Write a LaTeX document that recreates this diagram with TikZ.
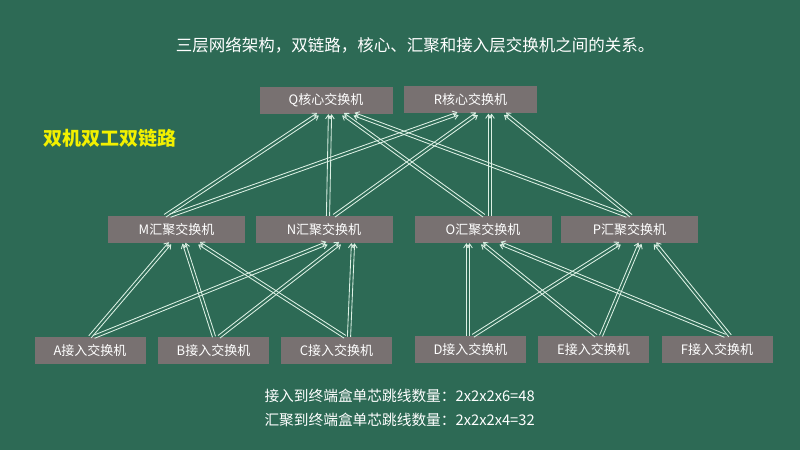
\documentclass[tikz,border=0pt]{standalone}
\usepackage{fontspec}
\setmainfont{Noto Sans CJK SC}
\usetikzlibrary{calc,arrows.meta}
\definecolor{bg}{HTML}{2D6A55}
\definecolor{boxgray}{HTML}{787171}
\definecolor{linkc}{HTML}{DCF0E4}
\definecolor{yel}{HTML}{F2F000}
\tikzset{
  sw/.style={fill=boxgray, text=white, inner sep=0pt, minimum height=27pt, font=\fontsize{13}{15}\selectfont},
  core/.style={sw, minimum width=133pt},
  agg/.style={sw, minimum width=137pt},
  acc/.style={sw, minimum width=111pt},
  link/.style={draw=linkc, line width=0.85pt, -{Straight Barb[length=4pt,width=5.5pt]}},
}
\newcommand\dlink[2]{%
  \draw[link] ($(#1)!1.6pt!90:(#2)$) -- ($(#2)!1.6pt!-90:(#1)$);
  \draw[link] ($(#1)!1.6pt!-90:(#2)$) -- ($(#2)!1.6pt!90:(#1)$);}
\newcommand\lnk[4]{%
  \coordinate (ls) at ([xshift=#2pt]#1.north);
  \coordinate (lt) at ([xshift=#4pt]#3.south);
  \dlink{ls}{lt}}
\begin{document}
\begin{tikzpicture}[x=1pt,y=1pt]
\fill[bg] (0,0) rectangle (800,450);
\useasboundingbox (0,0) rectangle (800,450);
\node[text=white, font=\fontsize{16.5}{18}\selectfont] (title) at (415,405) {三层网络架构，双链路，核心、汇聚和接入层交换机之间的关系。};
\node[text=yel, anchor=west, font=\fontsize{19}{21}\selectfont\bfseries] (duplex) at (40,312) {双机双工双链路};
% core
\node[core] (Q) at (326,349.5) {Q核心交换机};
\node[core] (R) at (470.5,350) {R核心交换机};
% aggregation
\node[agg] (M) at (176.5,220.5) {M汇聚交换机};
\node[agg] (N) at (324,220.5) {N汇聚交换机};
\node[agg] (O) at (483,220.5) {O汇聚交换机};
\node[agg] (P) at (629.5,220.5) {P汇聚交换机};
% access
\node[acc] (A) at (90,99.5) {A接入交换机};
\node[acc] (B) at (213.5,99.5) {B接入交换机};
\node[acc] (C) at (336.5,99.5) {C接入交换机};
\node[acc] (D) at (470.5,100.5) {D接入交换机};
\node[acc] (E) at (593.5,100.5) {E接入交换机};
\node[acc] (F) at (717,100.5) {F接入交换机};
% access -> aggregation
\lnk{A}{0}{M}{-6.5}
\lnk{A}{4}{N}{3}
\lnk{B}{0.5}{M}{7.5}
\lnk{B}{5.5}{N}{16}
\lnk{C}{8.5}{M}{22.5}
\lnk{C}{12.5}{N}{29}
\lnk{D}{-2.5}{O}{-15}
\lnk{D}{2.5}{P}{-9.5}
\lnk{E}{2.5}{O}{-1}
\lnk{E}{7.5}{P}{10.5}
\lnk{F}{8}{O}{17}
\lnk{F}{13}{P}{25.5}
% aggregation -> core
\lnk{M}{-11.5}{Q}{-8}
\lnk{M}{-6.5}{R}{-12.5}
\lnk{N}{4}{Q}{4}
\lnk{N}{10}{R}{6.5}
\lnk{O}{1}{Q}{17}
\lnk{O}{7}{R}{19.5}
\lnk{P}{-2.5}{Q}{28}
\lnk{P}{1.5}{R}{34.5}
% bottom text
\node[text=white, anchor=west, font=\fontsize{14.7}{16}\selectfont] (l1) at (261,54) {接入到终端盒单芯跳线数量：2x2x2x6=48};
\node[text=white, anchor=west, font=\fontsize{14.7}{16}\selectfont] (l2) at (261,30) {汇聚到终端盒单芯跳线数量：2x2x2x4=32};
\end{tikzpicture}
\end{document}
